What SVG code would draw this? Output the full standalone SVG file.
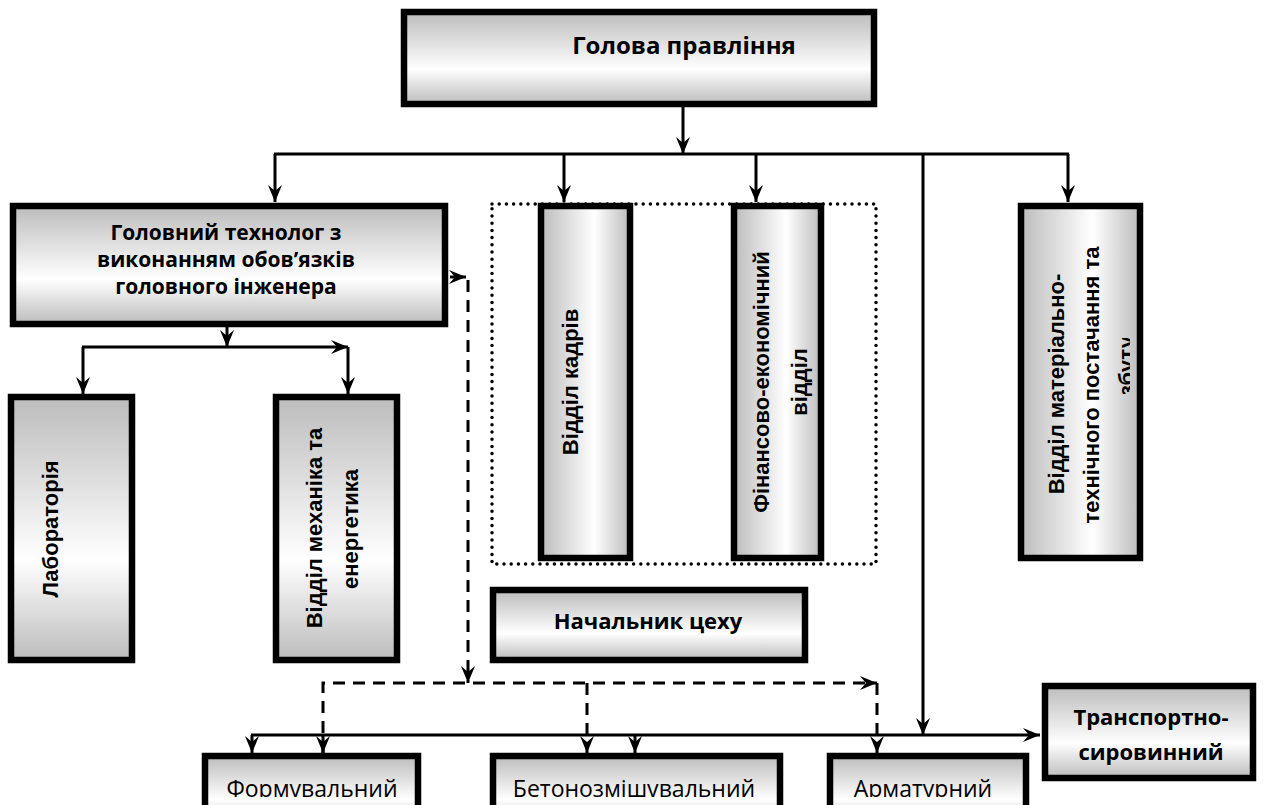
<svg xmlns="http://www.w3.org/2000/svg" width="1265" height="805" viewBox="0 0 1265 805">
  <defs>
    <!-- shading for wide boxes: light band below the middle -->
    <linearGradient id="shadeV" x1="0" y1="0" x2="0" y2="1">
      <stop offset="0" stop-color="#bcbcbc"/>
      <stop offset="0.62" stop-color="#ffffff"/>
      <stop offset="1" stop-color="#bcbcbc"/>
    </linearGradient>
    <!-- shading for tall column boxes: light band right of centre -->
    <linearGradient id="shadeH" x1="0" y1="0" x2="1" y2="0">
      <stop offset="0" stop-color="#bcbcbc"/>
      <stop offset="0.6" stop-color="#ffffff"/>
      <stop offset="1" stop-color="#bcbcbc"/>
    </linearGradient>
    <marker id="arrow" markerUnits="userSpaceOnUse" markerWidth="20" markerHeight="16" viewBox="-18 -8 20 16" refX="0" refY="0" orient="auto">
      <path d="M0,0 L-17,-7 L-11,0 L-17,7 Z" fill="#000"/>
    </marker>
    <clipPath id="cutBottom">
      <rect x="0" y="0" width="1265" height="797"/>
    </clipPath>
    <clipPath id="cutLastLine">
      <rect x="1100" y="338" width="30" height="56"/>
    </clipPath>
  </defs>
  <style>
    .box { stroke: #000; stroke-width: 6.5; }
    .fv { fill: url(#shadeV); }
    .fh { fill: url(#shadeH); }
    .lbl { font-family: "Open Sans", "Noto Sans", "Liberation Sans", sans-serif; font-weight: bold; font-size: 22px; fill: #000; text-anchor: middle; }
    .big { font-size: 24px; }
    .ml { font-size: 21px; }
    .lblR { font-family: "Open Sans", "Noto Sans", "Liberation Sans", sans-serif; font-weight: normal; font-size: 23px; fill: #000; text-anchor: middle; }
    .vert { font-family: "Liberation Sans", Arial, sans-serif; font-weight: bold; font-size: 22px; fill: #000; text-anchor: middle; }
    .link { fill: none; stroke: #000; stroke-width: 3; }
    .dash { fill: none; stroke: #000; stroke-width: 3; stroke-dasharray: 12 8; }
    .dots { fill: none; stroke: #000; stroke-width: 3.5; stroke-dasharray: 0 7.2; stroke-linecap: round; }
  </style>

  <rect width="1265" height="805" fill="#fff"/>

  <!-- dotted frame around the two staff departments -->
  <rect id="staff-frame" class="dots" x="492" y="204" width="384" height="360"/>

  <g id="connectors">
    <!-- from the head of the board -->
    <line class="link" x1="683" y1="105" x2="683" y2="154" marker-end="url(#arrow)"/>
    <line class="link" x1="274" y1="154" x2="1069" y2="154"/>
    <line class="link" x1="275" y1="154" x2="275" y2="202" marker-end="url(#arrow)"/>
    <line class="link" x1="564" y1="154" x2="564" y2="202" marker-end="url(#arrow)"/>
    <line class="link" x1="756" y1="154" x2="756" y2="202" marker-end="url(#arrow)"/>
    <line class="link" x1="1068" y1="154" x2="1068" y2="202" marker-end="url(#arrow)"/>
    <line class="link" x1="923" y1="154" x2="923" y2="735" marker-end="url(#arrow)"/>

    <!-- from the chief technologist -->
    <line class="link" x1="227" y1="326" x2="227" y2="347" marker-end="url(#arrow)"/>
    <line class="link" x1="82" y1="347" x2="348" y2="347" marker-end="url(#arrow)"/>
    <line class="link" x1="83" y1="347" x2="83" y2="394" marker-end="url(#arrow)"/>
    <line class="link" x1="348" y1="347" x2="348" y2="394" marker-end="url(#arrow)"/>

    <!-- dashed technological subordination -->
    <line class="link" x1="450" y1="277" x2="466" y2="277" marker-end="url(#arrow)"/>
    <line class="dash" x1="468" y1="280" x2="468" y2="683" marker-end="url(#arrow)"/>
    <polyline class="dash" points="323,753 323,683 877,683" marker-end="url(#arrow)"/>
    <line class="dash" x1="877" y1="683" x2="877" y2="753" marker-end="url(#arrow)"/>
    <line class="dash" x1="587" y1="683" x2="587" y2="753" marker-end="url(#arrow)"/>
    <line class="link" x1="323" y1="735" x2="323" y2="753" marker-end="url(#arrow)"/>

    <!-- production line to the shops -->
    <line class="link" x1="251" y1="735" x2="1040" y2="735" marker-end="url(#arrow)"/>
    <line class="link" x1="252" y1="735" x2="252" y2="753" marker-end="url(#arrow)"/>
    <line class="link" x1="635" y1="735" x2="635" y2="753" marker-end="url(#arrow)"/>
  </g>

  <g id="head">
    <rect class="box fv" x="404" y="12" width="470" height="92"/>
    <text class="lbl big" x="684" y="54">Голова правління</text>
  </g>

  <g id="chief-technologist">
    <rect class="box fv" x="13" y="206" width="432" height="118"/>
    <text class="lbl ml" x="226" y="240">Головний технолог з</text>
    <text class="lbl ml" x="226" y="267">виконанням обов’язків</text>
    <text class="lbl ml" x="226" y="294">головного інженера</text>
  </g>

  <g id="laboratory">
    <rect class="box fv" x="11" y="397" width="121" height="263"/>
    <text class="vert" transform="translate(58,529) rotate(-90)">Лабораторія</text>
  </g>

  <g id="mechanic-power">
    <rect class="box fv" x="276" y="397" width="121" height="263"/>
    <text class="vert" transform="translate(322,528) rotate(-90)">Відділ механіка та</text>
    <text class="vert" transform="translate(358,529) rotate(-90)">енергетика</text>
  </g>

  <g id="personnel">
    <rect class="box fh" x="541" y="206" width="89" height="352"/>
    <text class="vert" transform="translate(578,382) rotate(-90)">Відділ кадрів</text>
  </g>

  <g id="finance">
    <rect class="box fh" x="734" y="206" width="87" height="352"/>
    <text class="vert" transform="translate(769,382) rotate(-90)">Фінансово-економічний</text>
    <text class="vert" transform="translate(807,382) rotate(-90)">відділ</text>
  </g>

  <g id="supply">
    <rect class="box fh" x="1021" y="206" width="119" height="352"/>
    <text class="vert" transform="translate(1064,384) rotate(-90)">Відділ матеріально-</text>
    <text class="vert" transform="translate(1099,385) rotate(-90)">технічного постачання та</text>
    <g clip-path="url(#cutLastLine)">
      <text class="vert" transform="translate(1134,366) rotate(-90)">збуту</text>
    </g>
  </g>

  <g id="shop-head">
    <rect class="box fv" x="493" y="590" width="312" height="70"/>
    <text class="lbl" x="648" y="629">Начальник цеху</text>
  </g>

  <g id="transport">
    <rect class="box fv" x="1045" y="686" width="208" height="92"/>
    <text class="lbl" x="1151" y="725">Транспортно-</text>
    <text class="lbl" x="1151" y="760">сировинний</text>
  </g>

  <g id="forming">
    <rect class="box fv" x="205" y="756" width="213" height="70"/>
    <text class="lblR" x="312" y="797" clip-path="url(#cutBottom)">Формувальний</text>
  </g>

  <g id="concrete-mixing">
    <rect class="box fv" x="493" y="756" width="287" height="70"/>
    <text class="lblR" x="634" y="797" clip-path="url(#cutBottom)">Бетонозмішувальний</text>
  </g>

  <g id="reinforcement">
    <rect class="box fv" x="830" y="756" width="196" height="70"/>
    <text class="lblR" x="923" y="797" clip-path="url(#cutBottom)">Арматурний</text>
  </g>
</svg>
